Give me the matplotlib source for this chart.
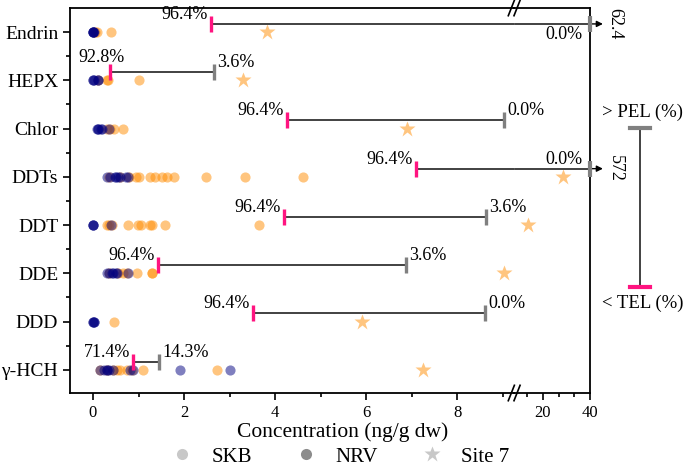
import matplotlib
matplotlib.use("Agg")
import matplotlib.pyplot as plt
import numpy as np
from matplotlib.lines import Line2D
from matplotlib.ticker import FixedLocator

plt.rcParams['font.family'] = ['Liberation Serif', 'DejaVu Serif']

# ---- data ----
compounds = ["γ-HCH", "DDD", "DDE", "DDT", "DDTs", "Chlor", "HEPX", "Endrin"]

skb = {
    "Endrin": [0.05, 0.08, 0.4],
    "HEPX": [0.12, 0.3, 0.32, 1.0],
    "Chlor": [0.3, 0.38, 0.47, 0.65],
    "DDTs": [0.35, 0.6, 0.8, 0.95, 1.0, 1.25, 1.36, 1.52, 1.62, 1.78, 2.48, 3.33, 4.61],
    "DDT": [0.3, 0.35, 0.42, 0.76, 0.98, 1.05, 1.25, 1.3, 1.58, 3.65],
    "DDE": [0.35, 0.55, 0.67, 0.75, 0.96, 1.29, 1.3],
    "DDD": [0.47],
    "γ-HCH": [0.15, 0.3, 0.45, 0.52, 0.6, 0.74, 0.85, 1.1, 2.72],
}
nrv = {
    "Endrin": [0.0, 0.0, 0.0, 0.0, 0.02],
    "HEPX": [0.0, 0.0, 0.02, 0.1, 0.12],
    "Chlor": [0.08, 0.1, 0.12, 0.17, 0.2, 0.36],
    "DDTs": [0.3, 0.37, 0.48, 0.5, 0.55, 0.6, 0.72, 0.77],
    "DDT": [0.0, 0.0, 0.0, 0.4],
    "DDE": [0.3, 0.35, 0.41, 0.45, 0.5, 0.52, 0.76],
    "DDD": [0.0, 0.0, 0.02, 0.03],
    "γ-HCH": [0.15, 0.25, 0.3, 0.3, 0.35, 0.45, 0.82, 0.88, 1.91, 3.01],
}
site7 = [7.25, 5.9, 9.04, 13.6, 28.5, 6.9, 3.3, 3.83]

tel = [0.88, 3.51, 1.43, 4.2, 7.1, 4.26, 0.38, 2.6]
pel = [1.46, 8.62, 6.87, 8.63, 572, 9.03, 2.66, 62.4]
below_tel = ["71.4%", "96.4%", "96.4%", "96.4%", "96.4%", "96.4%", "92.8%", "96.4%"]
above_pel = ["14.3%", "0.0%", "3.6%", "3.6%", "0.0%", "0.0%", "3.6%", "0.0%"]

# ---- styling ----
c_skb = "#FF8C00"
c_nrv = "#000080"
c_tel = "#FF1480"
c_pel = "#808080"
W, H = 685, 468

XB = 9.25          # break value on left segment
X2MIN, X2MAX = 7.66, 40
OFF = 0.17         # bracket line above the category
FS_LAB = 13

fig = plt.figure(figsize=(W / 100, H / 100), dpi=100)
ax1 = fig.add_axes([70 / W, 1 - 393 / H, (514 - 70) / W, (393 - 8) / H])
ax2 = fig.add_axes([514 / W, 1 - 393 / H, (590 - 514) / W, (393 - 8) / H], sharey=ax1)
ax2.patch.set_visible(False)

ypos = np.arange(len(compounds))

for ax, lo, hi in [(ax1, -1, XB), (ax2, XB, 1e9)]:
    for i, name in enumerate(compounds):
        s = [v for v in skb[name] if lo < v <= hi]
        n = [v for v in nrv[name] if lo < v <= hi]
        ax.plot(s, [i] * len(s), 'o', color=c_skb, alpha=0.5, ms=7.3, mec='none', zorder=3)
        ax.plot(n, [i] * len(n), 'o', color=c_nrv, alpha=0.5, ms=7.3, mec='none', zorder=4)
        if lo < site7[i] <= hi:
            ax.plot(site7[i], i, '*', color=c_skb, alpha=0.5, ms=12, mec='none', zorder=3)

# TEL - PEL brackets
for i in range(len(compounds)):
    y = i + OFF
    t, p = tel[i], pel[i]
    ax1.plot([t, min(p, XB + 1)], [y, y], color='#333333', lw=1.3, zorder=5)
    if p > XB:
        ax2.plot([max(t, XB - 1), min(p, X2MAX)], [y, y], color='#333333', lw=1.3, zorder=5)
    ax1.plot(t, y, '|', color=c_tel, ms=12, mew=2.4, zorder=6)
    lab_kw = dict(fontsize=FS_LAB, va='bottom', zorder=8)
    if compounds[i] == "HEPX":
        ax1.text(t - 0.2, y + 0.12, below_tel[i], ha='center', **lab_kw)
    else:
        ax1.text(t - 0.07, y + 0.02, below_tel[i], ha='right', **lab_kw)
    if p <= XB:
        ax1.plot(p, y, '|', color=c_pel, ms=12, mew=2.4, zorder=6)
        ax1.text(p + 0.07, y + 0.02, above_pel[i], ha='left', **lab_kw)
    else:
        ax2.plot(X2MAX, y, '|', color=c_pel, ms=12, mew=3, zorder=6, clip_on=False)
        ax2.annotate('', xy=(1.17, y), xycoords=('axes fraction', 'data'),
                     xytext=(1.0, y), textcoords=('axes fraction', 'data'),
                     arrowprops=dict(arrowstyle='-|>', color='k', lw=1, mutation_scale=9,
                                     shrinkA=0, shrinkB=0))
        ax2.text(1.22, y, f"{p:g}", transform=ax2.get_yaxis_transform(), rotation=270,
                 ha='left', va='center', fontsize=FS_LAB, clip_on=False)
        if y > 6:
            ax2.text(X2MAX - 3, y - 0.05, above_pel[i], ha='right', va='top', fontsize=FS_LAB)
        else:
            ax2.text(X2MAX - 3, y + 0.02, above_pel[i], ha='right', va='bottom', fontsize=FS_LAB)

# axes setup
ax1.set_xlim(-0.505, XB)
ax2.set_xlim(X2MIN, X2MAX)
ax1.set_ylim(-0.48, 7.5)
ax1.set_yticks(ypos)
ax1.set_yticklabels(compounds, fontsize=14)
ax1.yaxis.set_minor_locator(FixedLocator(ypos[:-1] + 0.5))
ax1.set_xticks([0, 2, 4, 6, 8])
ax1.xaxis.set_minor_locator(FixedLocator([1, 3, 5, 7, 9]))
ax2.set_xticks([20, 40])
ax2.xaxis.set_minor_locator(FixedLocator([13.33, 26.67, 33.33]))

for ax in (ax1, ax2):
    ax.tick_params(axis='both', which='major', direction='out', length=5, width=1.2, labelsize=12)
    ax.tick_params(axis='both', which='minor', direction='out', length=3, width=1.2)
    for sp in ax.spines.values():
        sp.set_linewidth(1.3)
ax1.tick_params(axis='y', labelsize=14)
ax1.spines['right'].set_visible(False)
ax2.spines['left'].set_visible(False)
ax2.tick_params(axis='y', which='both', left=False, labelleft=False)

# break marks
for yb in (0, 1):
    for dx in (-0.045, 0.03):
        ax2.plot([dx - 0.03, dx + 0.05], [yb - 0.02, yb + 0.02], transform=ax2.transAxes,
                 color='k', lw=1.2, clip_on=False, zorder=10)

fig.text(0.5, 1 - 432 / H, "Concentration (ng/g dw)", ha='center', va='center', fontsize=15.5)

# TEL / PEL key on the right
fx = 640 / W
fig.add_artist(Line2D([fx, fx], [1 - 128 / H, 1 - 287 / H], color='#333333', lw=1.3))
fig.add_artist(Line2D([630 / W, 650 / W], [1 - 128 / H, 1 - 128 / H], color=c_pel, lw=3))
fig.add_artist(Line2D([630 / W, 650 / W], [1 - 287 / H, 1 - 287 / H], color=c_tel, lw=3))
fig.text(642 / W, 1 - 112 / H, "> PEL (%)", ha='center', va='center', fontsize=13.5)
fig.text(643 / W, 1 - 303 / H, "< TEL (%)", ha='center', va='center', fontsize=13.5)

# legend
handles = [
    Line2D([], [], ls='none', marker='o', color='#c8c8c8', ms=8, mec='none'),
    Line2D([], [], ls='none', marker='o', color='#8c8c8c', ms=8, mec='none'),
    Line2D([], [], ls='none', marker='*', color='#c8c8c8', ms=12, mec='none'),
]
fig.legend(handles, ["SKB", "NRV", "Site 7"], loc='center', bbox_to_anchor=(0.497, 1 - 457 / H),
           ncol=3, frameon=False, fontsize=15, handlelength=1.0, handletextpad=0.9,
           columnspacing=2.1, borderpad=0)

fig.savefig("out.png", dpi=100)
